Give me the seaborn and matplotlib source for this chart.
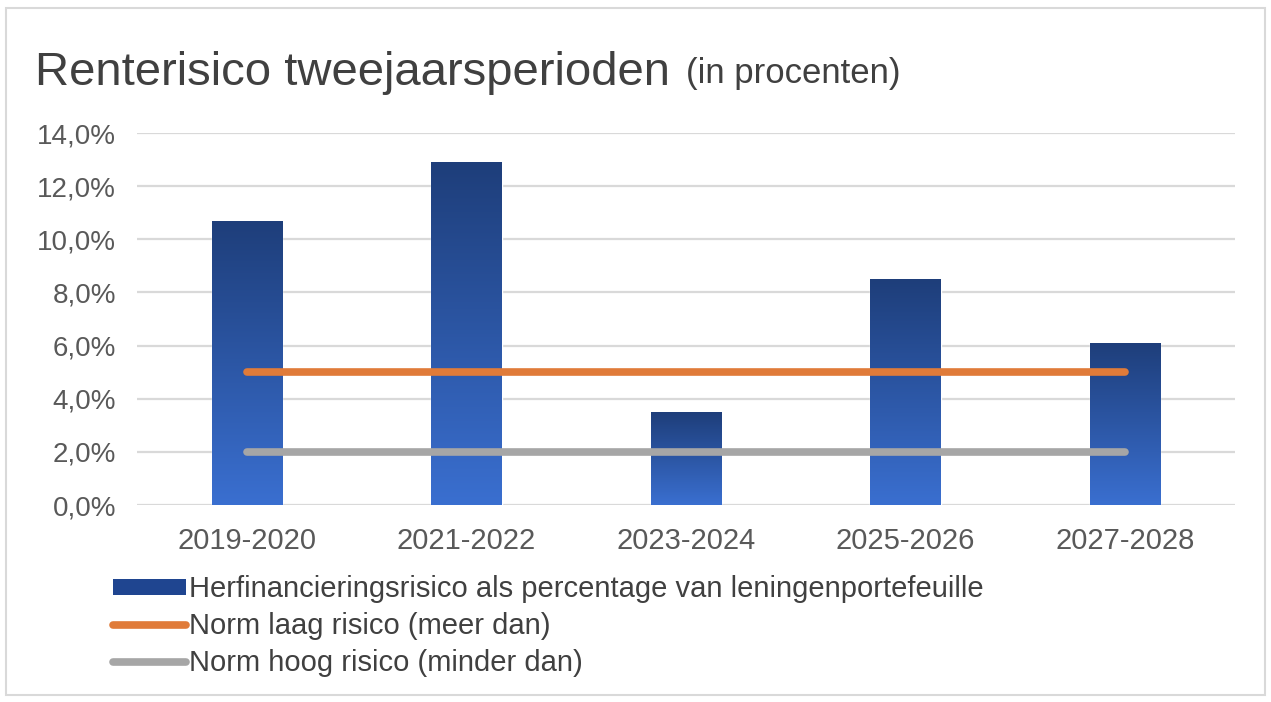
import numpy as np
import matplotlib
matplotlib.use("Agg")
import matplotlib.pyplot as plt
import seaborn as sns
from matplotlib.patches import Patch, Rectangle
from matplotlib.lines import Line2D
from matplotlib.colors import LinearSegmentedColormap

periods = ["2019-2020", "2021-2022", "2023-2024", "2025-2026", "2027-2028"]
herfinanciering = [10.7, 12.9, 3.5, 8.5, 6.1]
norm_laag = [5.0, 5.0, 5.0, 5.0, 5.0]
norm_hoog = [2.0, 2.0, 2.0, 2.0, 2.0]
yticks = [0, 2, 4, 6, 8, 10, 12, 14]
ytick_labels = ["0,0%", "2,0%", "4,0%", "6,0%", "8,0%", "10,0%", "12,0%", "14,0%"]

sns.set_style("white")
plt.rcParams["font.family"] = ["Liberation Sans", "DejaVu Sans"]

fig = plt.figure(figsize=(12.71, 7.02), dpi=100)
ax = fig.add_axes([0.1078, 0.2806, 0.8639, 0.5299])

sns.barplot(x=periods, y=herfinanciering, ax=ax, color="#2b5cb0",
            width=0.32, saturation=1, zorder=2)

# vertical gradient on bars (dark top, lighter bottom)
cmap = LinearSegmentedColormap.from_list("bar", ["#3a6fd0", "#1e3e7a"])
grad = np.linspace(0, 1, 256).reshape(-1, 1)
for p in ax.patches:
    x0, y0 = p.get_x(), p.get_y()
    w, h = p.get_width(), p.get_height()
    im = ax.imshow(grad, cmap=cmap, origin="lower", aspect="auto",
                   extent=[x0, x0 + w, y0, y0 + h], zorder=2.1)
    im.set_clip_path(p)

xpos = np.arange(len(periods))
ax.plot(xpos, norm_laag, color="#e07b39", lw=5.5, solid_capstyle="round", zorder=3)
ax.plot(xpos, norm_hoog, color="#a6a6a6", lw=5.5, solid_capstyle="round", zorder=3)

ax.set_xlim(-0.5, len(periods) - 0.5)
ax.set_ylim(0, 14)
ax.set_yticks(yticks)
ax.set_yticklabels(ytick_labels)
ax.yaxis.grid(True, color="#d9d9d9", lw=1.6)
ax.set_axisbelow(True)
for s in ax.spines.values():
    s.set_visible(False)
ax.tick_params(axis="both", length=0, labelsize=20, colors="#595959")
ax.tick_params(axis="x", labelsize=21, pad=16)
ax.tick_params(axis="y", pad=15)
ax.set_xlabel("")
ax.set_ylabel("")

fig.text(0.0275, 0.879, "Renterisico tweejaarsperioden", fontsize=34,
         color="#404040", va="baseline")
fig.text(0.54, 0.882, "(in procenten)", fontsize=25, color="#404040",
         va="baseline")

handles = [
    Patch(facecolor="#1f4590", edgecolor="none"),
    Line2D([0], [0], color="#e07b39", lw=5.5),
    Line2D([0], [0], color="#a6a6a6", lw=5.5),
]
labels = [
    "Herfinancieringsrisico als percentage van leningenportefeuille",
    "Norm laag risico (meer dan)",
    "Norm hoog risico (minder dan)",
]
leg = fig.legend(handles, labels, loc="upper left", bbox_to_anchor=(0.08, 0.197),
                 frameon=False, fontsize=21, handlelength=2.5, handleheight=0.42,
                 handletextpad=0.1, labelspacing=0.3, borderaxespad=0)
for t in leg.get_texts():
    t.set_color("#404040")

fig.patches.append(Rectangle((0.005, 0.01), 0.99, 0.978, transform=fig.transFigure,
                             fill=False, edgecolor="#d9d9d9", lw=1.5))

fig.savefig("out.png", dpi=100)
